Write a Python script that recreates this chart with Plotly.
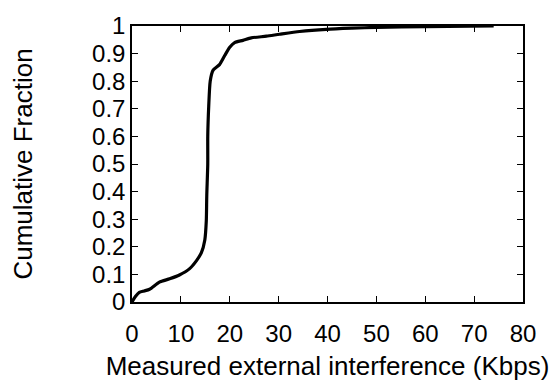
import plotly.graph_objects as go

interference_kbps = [0, 0.7, 1.5, 2.5, 3.6, 5.6, 7.7, 9.7, 11.8, 13.2, 14.2, 14.9, 15.2, 15.3, 15.5,
                     15.5, 15.7, 16.0, 16.6, 17.9, 19.0, 20.0, 21.0, 22.7, 24.4, 27.5, 30.2, 34.3,
                     39.8, 45.0, 50.0, 60.0, 74.0]
cumulative_fraction = [0, 0.02, 0.035, 0.04, 0.046, 0.072, 0.084, 0.098, 0.121, 0.15, 0.179, 0.225,
                       0.294, 0.387, 0.50, 0.60, 0.71, 0.80, 0.84, 0.86, 0.894, 0.923, 0.94, 0.948,
                       0.957, 0.963, 0.970, 0.980, 0.988, 0.992, 0.995, 0.998, 1.0]

x_ticks = [0, 10, 20, 30, 40, 50, 60, 70, 80]
y_ticks = [0, 0.1, 0.2, 0.3, 0.4, 0.5, 0.6, 0.7, 0.8, 0.9, 1]
y_tick_labels = ["0", "0.1", "0.2", "0.3", "0.4", "0.5", "0.6", "0.7", "0.8", "0.9", "1"]

fig = go.Figure()
fig.add_trace(go.Scatter(x=interference_kbps, y=cumulative_fraction, mode="lines",
                         line=dict(color="black", width=3.2, shape="spline", smoothing=0.6),
                         showlegend=False))

tick_font = dict(family="Liberation Sans, Arial, sans-serif", size=24, color="black")
title_font = dict(family="Liberation Sans, Arial, sans-serif", size=26, color="black")
fig.update_layout(
    width=553, height=388,
    margin=dict(l=132, r=30, t=16, b=83),
    paper_bgcolor="white", plot_bgcolor="white",
    font=tick_font,
    xaxis=dict(range=[0, 80], tickvals=x_ticks, ticks="inside", ticklen=6, tickwidth=1.2,
               tickcolor="black", showline=True, linecolor="black", linewidth=1.5, mirror="ticks",
               showgrid=False, zeroline=False, ticklabelstandoff=9,
               title=dict(text="Measured external interference (Kbps)", standoff=11, font=title_font),
               tickfont=tick_font),
    yaxis=dict(range=[0, 1], tickvals=y_ticks, ticktext=y_tick_labels, ticks="inside", ticklen=6,
               tickwidth=1.2, tickcolor="black", showline=True, linecolor="black", linewidth=1.5,
               mirror="ticks", showgrid=False, zeroline=False,
               title=dict(text="Cumulative Fraction", standoff=52, font=title_font), tickfont=tick_font),
)
fig.write_html("out.html")
